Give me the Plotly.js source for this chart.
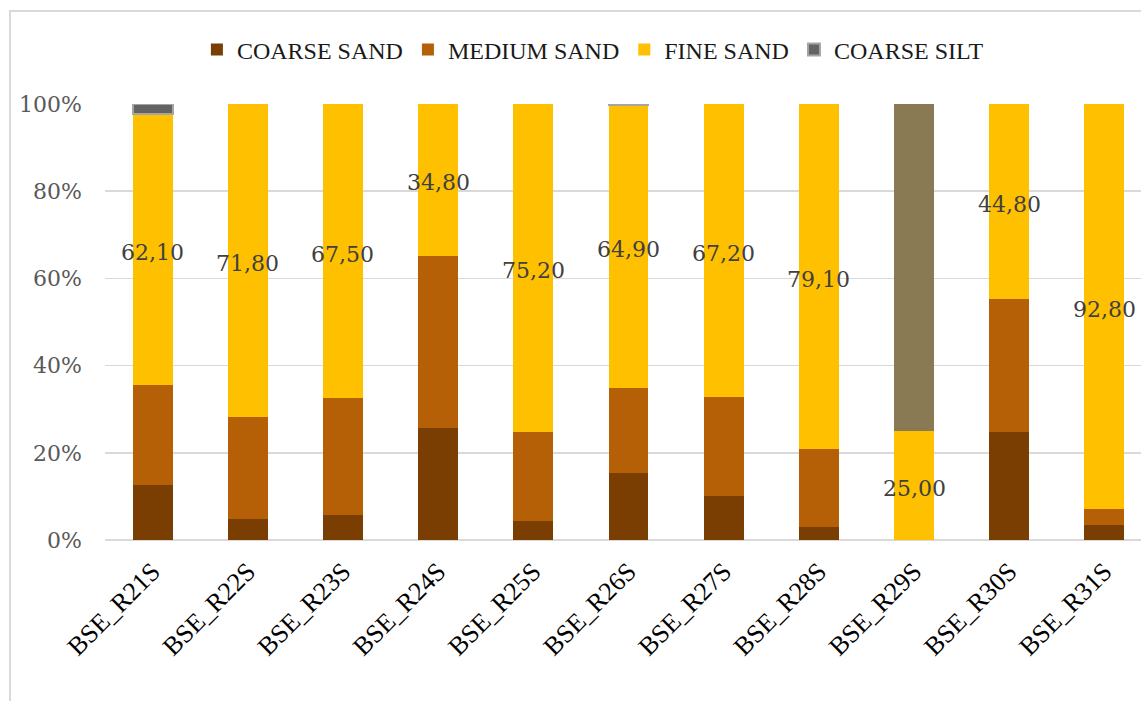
<!DOCTYPE html>
<html>
<head>
<meta charset="utf-8">
<script src="https://cdn.plot.ly/plotly-3.0.1.min.js"></script>
<style>
  html, body { margin: 0; padding: 0; background: #ffffff; overflow: hidden; }
  #wrap { position: relative; width: 1141px; height: 701px; overflow: hidden; }
  #chart { position: absolute; left: 0; top: 0; width: 1152px; height: 701px; }
  #frame { position: absolute; left: 9px; top: 10px; width: 1400px; height: 900px;
           border-left: 2px solid #d9d9d9; border-top: 2px solid #d9d9d9; pointer-events: none; }
</style>
</head>
<body>
<div id="wrap">
  <div id="chart"></div>
  <div id="frame"></div>
</div>
<script>
// Sample stations
const stations = ["BSE_R21S", "BSE_R22S", "BSE_R23S", "BSE_R24S", "BSE_R25S", "BSE_R26S",
                  "BSE_R27S", "BSE_R28S", "BSE_R29S", "BSE_R30S", "BSE_R31S"];

// Grain-size fractions (%) per station
const coarseSand = [12.6, 4.8, 5.8, 25.7, 4.3, 15.4, 10.0, 2.9, 0, 24.8, 3.4];
const mediumSand = [22.9, 23.4, 26.7, 39.5, 20.5, 19.4, 22.8, 18.0, 0, 30.4, 3.8];
const fineSand   = [62.1, 71.8, 67.5, 34.8, 75.2, 64.9, 67.2, 79.1, 25.0, 44.8, 92.8];
const coarseSilt = [2.4, 0, 0, 0, 0, 0.3, 0, 0, 0, 0, 0];
const otherFrac  = [0, 0, 0, 0, 0, 0, 0, 0, 75.0, 0, 0];

const yTicks = [0, 20, 40, 60, 80, 100];
const yTickText = yTicks.map(v => v + "%");

const serifText = "Liberation Serif, Times New Roman, serif";
const serifNum = "DejaVu Serif, serif";

function barTrace(name, values, color, lineColor, lineWidth, showlegend) {
  return {
    type: "bar",
    name: name,
    x: stations,
    y: values,
    marker: {
      color: color,
      // outline only on segments that actually have height
      line: { color: lineColor, width: values.map(v => (v > 0 ? lineWidth : 0)) }
    },
    showlegend: showlegend,
    hoverinfo: "x+y+name"
  };
}

const traces = [
  barTrace("COARSE SAND", coarseSand, "#7a3e02", "#7a3e02", 0, true),
  barTrace("MEDIUM SAND", mediumSand, "#b55f06", "#b55f06", 0, true),
  barTrace("FINE SAND", fineSand, "#ffc000", "#ffc000", 0, true),
  barTrace("COARSE SILT", coarseSilt, "#636363", "#a5a5a5", 2, true),
  barTrace("OTHER", otherFrac, "#8a7a53", "#8a7a53", 0, false)
];

// Fine-sand value labels, centred on each fine-sand segment (normalised to 100%)
const annotations = stations.map((s, i) => {
  const total = coarseSand[i] + mediumSand[i] + fineSand[i] + coarseSilt[i] + otherFrac[i];
  const mid = (coarseSand[i] + mediumSand[i] + fineSand[i] / 2) / total * 100;
  return {
    x: s,
    y: mid,
    xref: "x",
    yref: "y",
    text: fineSand[i].toFixed(2).replace(".", ","),
    showarrow: false,
    xanchor: "center",
    yanchor: "middle",
    yshift: -3,
    font: { family: serifNum, size: 22, color: "#404040" }
  };
});

const layout = {
  width: 1152,
  height: 701,
  margin: { l: 105, r: 0, t: 104, b: 161, autoexpand: false },
  paper_bgcolor: "rgba(0,0,0,0)",
  plot_bgcolor: "rgba(0,0,0,0)",
  barmode: "stack",
  barnorm: "percent",
  bargap: 0.58,
  showlegend: true,
  legend: {
    orientation: "h",
    traceorder: "normal",
    x: 0.466,
    xanchor: "center",
    y: 1.124,
    yanchor: "middle",
    font: { family: serifText, size: 24, color: "#1a1a1a" },
    bgcolor: "rgba(0,0,0,0)"
  },
  annotations: annotations,
  xaxis: {
    type: "category",
    range: [-0.5, stations.length - 0.5],
    automargin: false,
    tickangle: -45,
    ticks: "",
    ticklabelstandoff: 10,
    tickfont: { family: serifText, size: 26, color: "#000000" },
    showgrid: false,
    showline: false,
    zeroline: false
  },
  yaxis: {
    automargin: false,
    range: [0, 100],
    tickvals: yTicks,
    ticktext: yTickText,
    ticks: "",
    ticklabelstandoff: 22,
    tickfont: { family: serifNum, size: 22, color: "#595959" },
    showgrid: true,
    gridcolor: "#d9d9d9",
    gridwidth: 1.5,
    zeroline: true,
    zerolinecolor: "#d9d9d9",
    zerolinewidth: 1.5,
    showline: false
  }
};

Plotly.newPlot("chart", traces, layout, { staticPlot: true, displayModeBar: false });
</script>
</body>
</html>
